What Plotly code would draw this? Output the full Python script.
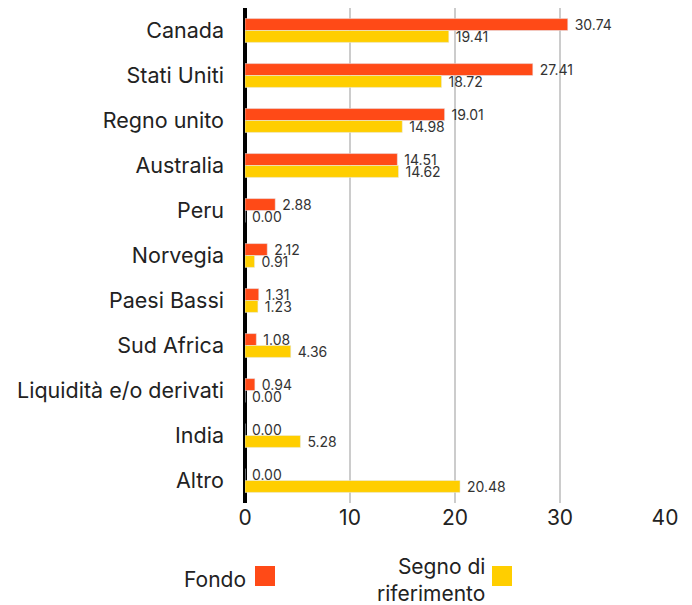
import plotly.graph_objects as go

categories = ["Canada", "Stati Uniti", "Regno unito", "Australia", "Peru", "Norvegia",
              "Paesi Bassi", "Sud Africa", "Liquidità e/o derivati", "India", "Altro"]
fondo = [30.74, 27.41, 19.01, 14.51, 2.88, 2.12, 1.31, 1.08, 0.94, 0.00, 0.00]
benchmark = [19.41, 18.72, 14.98, 14.62, 0.00, 0.91, 1.23, 4.36, 0.00, 5.28, 20.48]
x_ticks = [0, 10, 20, 30, 40]

ORANGE = "#ff4a17"
YELLOW = "#ffce00"
FONT = "Inter"
TXT = "#222222"

L, R, T, B = 245, 27, 8, 102
W, H = 692, 605
PW, PH = W - L - R, H - T - B


def px(x):
    return (x - L) / PW


def py(y):
    return (H - B - y) / PH


fig = go.Figure()
for name, vals, col in [("Fondo", fondo, ORANGE), ("Segno di riferimento", benchmark, YELLOW)]:
    fig.add_trace(go.Bar(y=categories, x=vals, orientation="h", name=name,
                         marker_color=col, text=[f"\u00a0{v:.2f}" for v in vals],
                         textposition="outside", cliponaxis=False, constraintext="none",
                         textfont=dict(size=14, color="#333333", family=FONT)))

fig.update_layout(
    width=W, height=H,
    margin=dict(l=L, r=R, t=T, b=B, autoexpand=False),
    barmode="group", bargap=0.47, bargroupgap=0,
    plot_bgcolor="white", paper_bgcolor="white",
    showlegend=False,
    font=dict(family=FONT, color=TXT),
    xaxis=dict(range=[0, 40], tickvals=x_ticks, showgrid=True, gridcolor="#cccccc",
               gridwidth=2, zeroline=True, zerolinecolor="black", zerolinewidth=4,
               tickfont=dict(size=21, color=TXT), ticks="", showline=False,
               automargin=False),
    yaxis=dict(autorange="reversed", tickfont=dict(size=21.5, color=TXT),
               ticks="", showgrid=False, ticklabelstandoff=20, automargin=False),
)

# legend drawn with annotations and swatches (symbol to the right of text)
fig.add_annotation(xref="paper", yref="paper", x=px(248), y=py(579),
                   text="Fondo", showarrow=False, xanchor="right", yanchor="middle",
                   font=dict(size=21, color=TXT, family=FONT))
fig.add_shape(type="rect", xref="paper", yref="paper",
              x0=px(255), x1=px(275), y0=py(586), y1=py(566),
              fillcolor=ORANGE, line_width=0)
fig.add_annotation(xref="paper", yref="paper", x=px(487), y=py(580),
                   text="Segno di<br>riferimento", showarrow=False, xanchor="right",
                   yanchor="middle", align="right",
                   font=dict(size=21, color=TXT, family=FONT))
fig.add_shape(type="rect", xref="paper", yref="paper",
              x0=px(492), x1=px(512), y0=py(586), y1=py(566),
              fillcolor=YELLOW, line_width=0)

fig.write_html("out.html", config={"displayModeBar": False},
               post_script="document.body.style.margin='0';")
